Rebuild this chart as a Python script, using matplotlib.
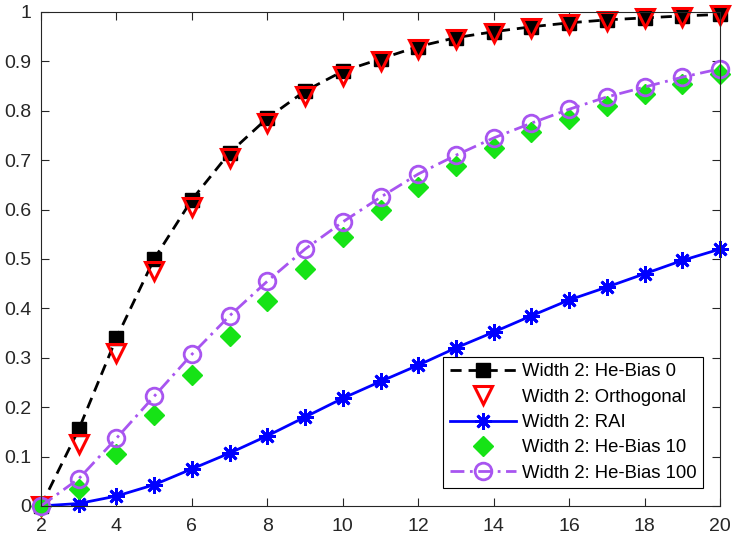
import numpy as np
import matplotlib
matplotlib.use('Agg')
import matplotlib.pyplot as plt

plt.rcParams['font.family'] = ['Liberation Sans', 'DejaVu Sans']

# Du lieu doc tu hinh
x = np.arange(2, 21)
he_bias_0 = [0, 0.155, 0.34, 0.50, 0.62, 0.715, 0.785, 0.84, 0.88, 0.905,
             0.93, 0.948, 0.96, 0.97, 0.978, 0.984, 0.988, 0.992, 0.995]
orthogonal = [0, 0.125, 0.31, 0.475, 0.605, 0.705, 0.775, 0.83, 0.87, 0.90,
              0.925, 0.945, 0.957, 0.967, 0.975, 0.982, 0.987, 0.99, 0.993]
rai = [0, 0.005, 0.02, 0.043, 0.075, 0.107, 0.142, 0.18, 0.218, 0.252,
       0.285, 0.32, 0.352, 0.385, 0.417, 0.443, 0.47, 0.497, 0.52]
he_bias_10 = [0, 0.035, 0.105, 0.185, 0.265, 0.345, 0.415, 0.48, 0.545, 0.60,
              0.645, 0.688, 0.725, 0.757, 0.783, 0.81, 0.833, 0.855, 0.875]
he_bias_100 = [0, 0.055, 0.137, 0.222, 0.307, 0.385, 0.455, 0.52, 0.575, 0.625,
               0.672, 0.71, 0.745, 0.775, 0.803, 0.828, 0.848, 0.868, 0.885]

xticks = [2, 4, 6, 8, 10, 12, 14, 16, 18, 20]
yticks = [0, 0.1, 0.2, 0.3, 0.4, 0.5, 0.6, 0.7, 0.8, 0.9, 1]
ytick_labels = ['0', '0.1', '0.2', '0.3', '0.4', '0.5', '0.6', '0.7', '0.8', '0.9', '1']

purple = '#a855f0'
green = '#16e316'

fig = plt.figure(figsize=(7.4, 5.44), dpi=100)
ax = fig.add_axes([0.0554, 0.0699, 0.9176, 0.9081])

ax.plot(x, he_bias_0, color='black', linestyle=(0, (4, 2.5)), linewidth=2,
        marker='s', markersize=10.5, clip_on=False, label='Width 2: He-Bias 0')
ax.plot(x, orthogonal, color='red', linestyle='none', marker='v', markersize=13.5,
        fillstyle='none', markeredgewidth=2.2, clip_on=False, label='Width 2: Orthogonal')
ax.plot(x, rai, color='blue', linestyle='-', linewidth=2, marker=(8, 2, 0), markersize=12,
        markeredgewidth=2, clip_on=False, label='Width 2: RAI')
ax.plot(x, he_bias_10, color=green, linestyle='none', marker='D', markersize=10,
        clip_on=False, label='Width 2: He-Bias 10')
ax.plot(x, he_bias_100, color=purple, linestyle=(0, (5, 2, 1, 2)), linewidth=2,
        marker='o', markersize=12, fillstyle='none', markeredgewidth=2,
        clip_on=False, label='Width 2: He-Bias 100')

ax.set_xlim(2, 20)
ax.set_ylim(0, 1)
ax.set_xticks(xticks)
ax.set_yticks(yticks)
ax.set_yticklabels(ytick_labels)
ax.tick_params(direction='in', top=True, right=True, labelsize=14, colors='#262626',
               length=6, width=0.8)
ax.tick_params(axis='x', pad=9)
ax.tick_params(axis='y', pad=7)
for s in ax.spines.values():
    s.set_color('#262626')
    s.set_linewidth(0.8)

leg = ax.legend(loc='lower right', bbox_to_anchor=(0.975, 0.036), borderaxespad=0,
                fontsize=13.3, fancybox=False, edgecolor='black', framealpha=1,
                handlelength=3.6, labelspacing=0.45, borderpad=0.35, handletextpad=0.3)
leg.get_frame().set_linewidth(0.8)

fig.savefig('out.png', dpi=100)
